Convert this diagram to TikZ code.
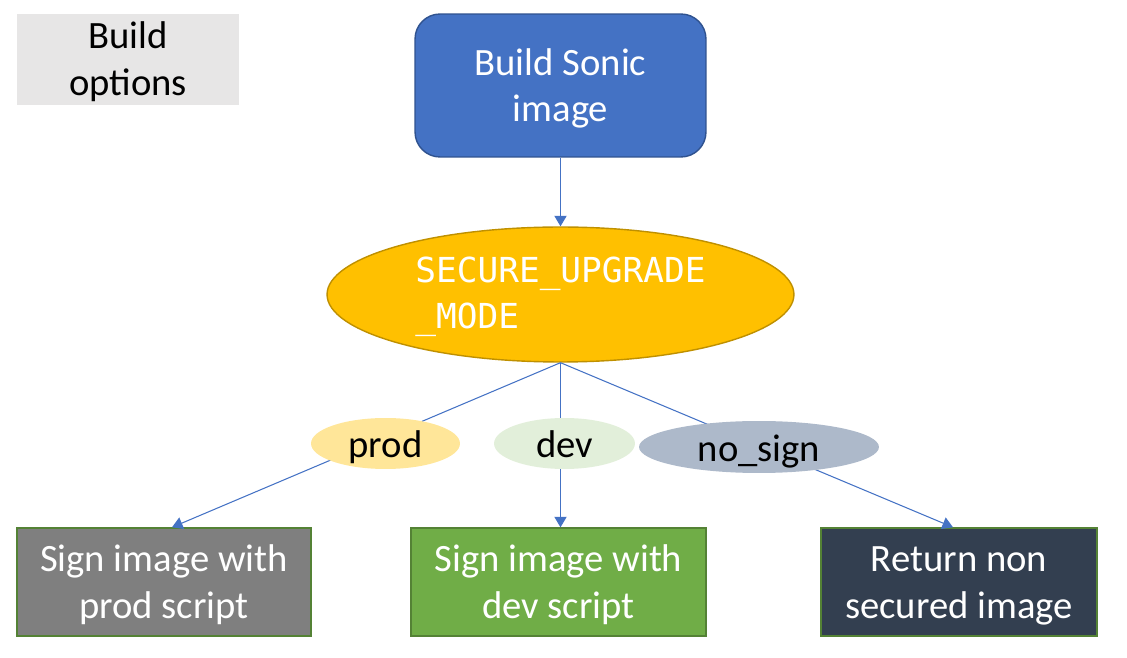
\documentclass[tikz,border=0pt]{standalone}
\usepackage{fontspec}
\setmainfont{Carlito}
\newfontfamily\modefont{DejaVu Sans Mono}
\usetikzlibrary{arrows.meta,shapes.geometric}
\definecolor{optgray}{HTML}{E7E6E6}
\definecolor{sonicblue}{HTML}{4472C4}
\definecolor{sonicedge}{HTML}{2F528F}
\definecolor{modegold}{HTML}{FFC000}
\definecolor{modeedge}{HTML}{BF9000}
\definecolor{boxgreen}{HTML}{548235}
\definecolor{prodgray}{HTML}{7F7F7F}
\definecolor{devgreen}{HTML}{70AD47}
\definecolor{retslate}{HTML}{333F50}
\definecolor{prodyellow}{HTML}{FFE699}
\definecolor{devpale}{HTML}{E2EFDA}
\definecolor{nosigngray}{HTML}{ADB9CA}
\newcommand{\tallline}[1]{\rule{0pt}{#1}}
\newcommand{\choicetext}[1]{\raisebox{-4pt}[10pt][2pt]{#1}}

\begin{document}
\begin{tikzpicture}[x=0.02cm, y=-0.02cm,
		every node/.style={font=\fontsize{22}{26.5}\selectfont, align=center, inner sep=0pt},
		box/.style={draw=boxgreen, line width=0.8pt, text=white, minimum height=2.16cm},
		choice/.style={ellipse, minimum height=1.02cm},
		link/.style={draw=sonicblue, line width=0.6pt, -{Triangle[length=6pt,width=7pt]}}]
		\useasboundingbox (0,0) rectangle (1127,658);
		\node[fill=optgray, minimum width=4.44cm, minimum height=1.82cm] (options) at (128,59.5) {\tallline{18pt}Build\\options};
		\node[fill=sonicblue, draw=sonicedge, line width=0.8pt, rounded corners=0.5cm, text=white,
			minimum width=5.82cm, minimum height=2.86cm] (build) at (560.5,85.5) {\tallline{18.5pt}Build Sonic\\image};
		\node[ellipse, fill=modegold, draw=modeedge, line width=0.8pt, text=white, align=left,
			minimum width=9.34cm, minimum height=2.7cm,
			font=\modefont\fontsize{19.6}{26}\selectfont] (mode) at (560.5,294.5) {\tallline{17pt}SECURE\_UPGRADE\\\_MODE};
		\node[box, fill=prodgray, minimum width=5.88cm] (prodbox) at (164,582) {\tallline{18.5pt}Sign image with\\prod script};
		\node[box, fill=devgreen, minimum width=5.9cm] (devbox) at (558.5,582) {\tallline{18.5pt}Sign image with\\dev script};
		\node[box, fill=retslate, minimum width=5.52cm] (retbox) at (959,582) {\tallline{18.5pt}Return non\\secured image};
		\draw[link] (build) -- (mode);
		\draw[link] (mode.south) -- ([xshift=0.16cm]prodbox.north);
		\draw[link] (mode.south) -- (mode.south |- devbox.north);
		\draw[link] (mode.south) -- ([xshift=-0.12cm]retbox.north);
		\node[choice, fill=prodyellow, minimum width=2.98cm] (prod) at (385.5,443.5) {\choicetext{prod}};
		\node[choice, fill=devpale, minimum width=2.82cm] (dev) at (564.5,443.5) {\choicetext{dev}};
		\node[choice, fill=nosigngray, minimum width=4.8cm, minimum height=1.04cm] (nosign) at (759,447) {\choicetext{no\_sign}};
	\end{tikzpicture}
\end{document}
